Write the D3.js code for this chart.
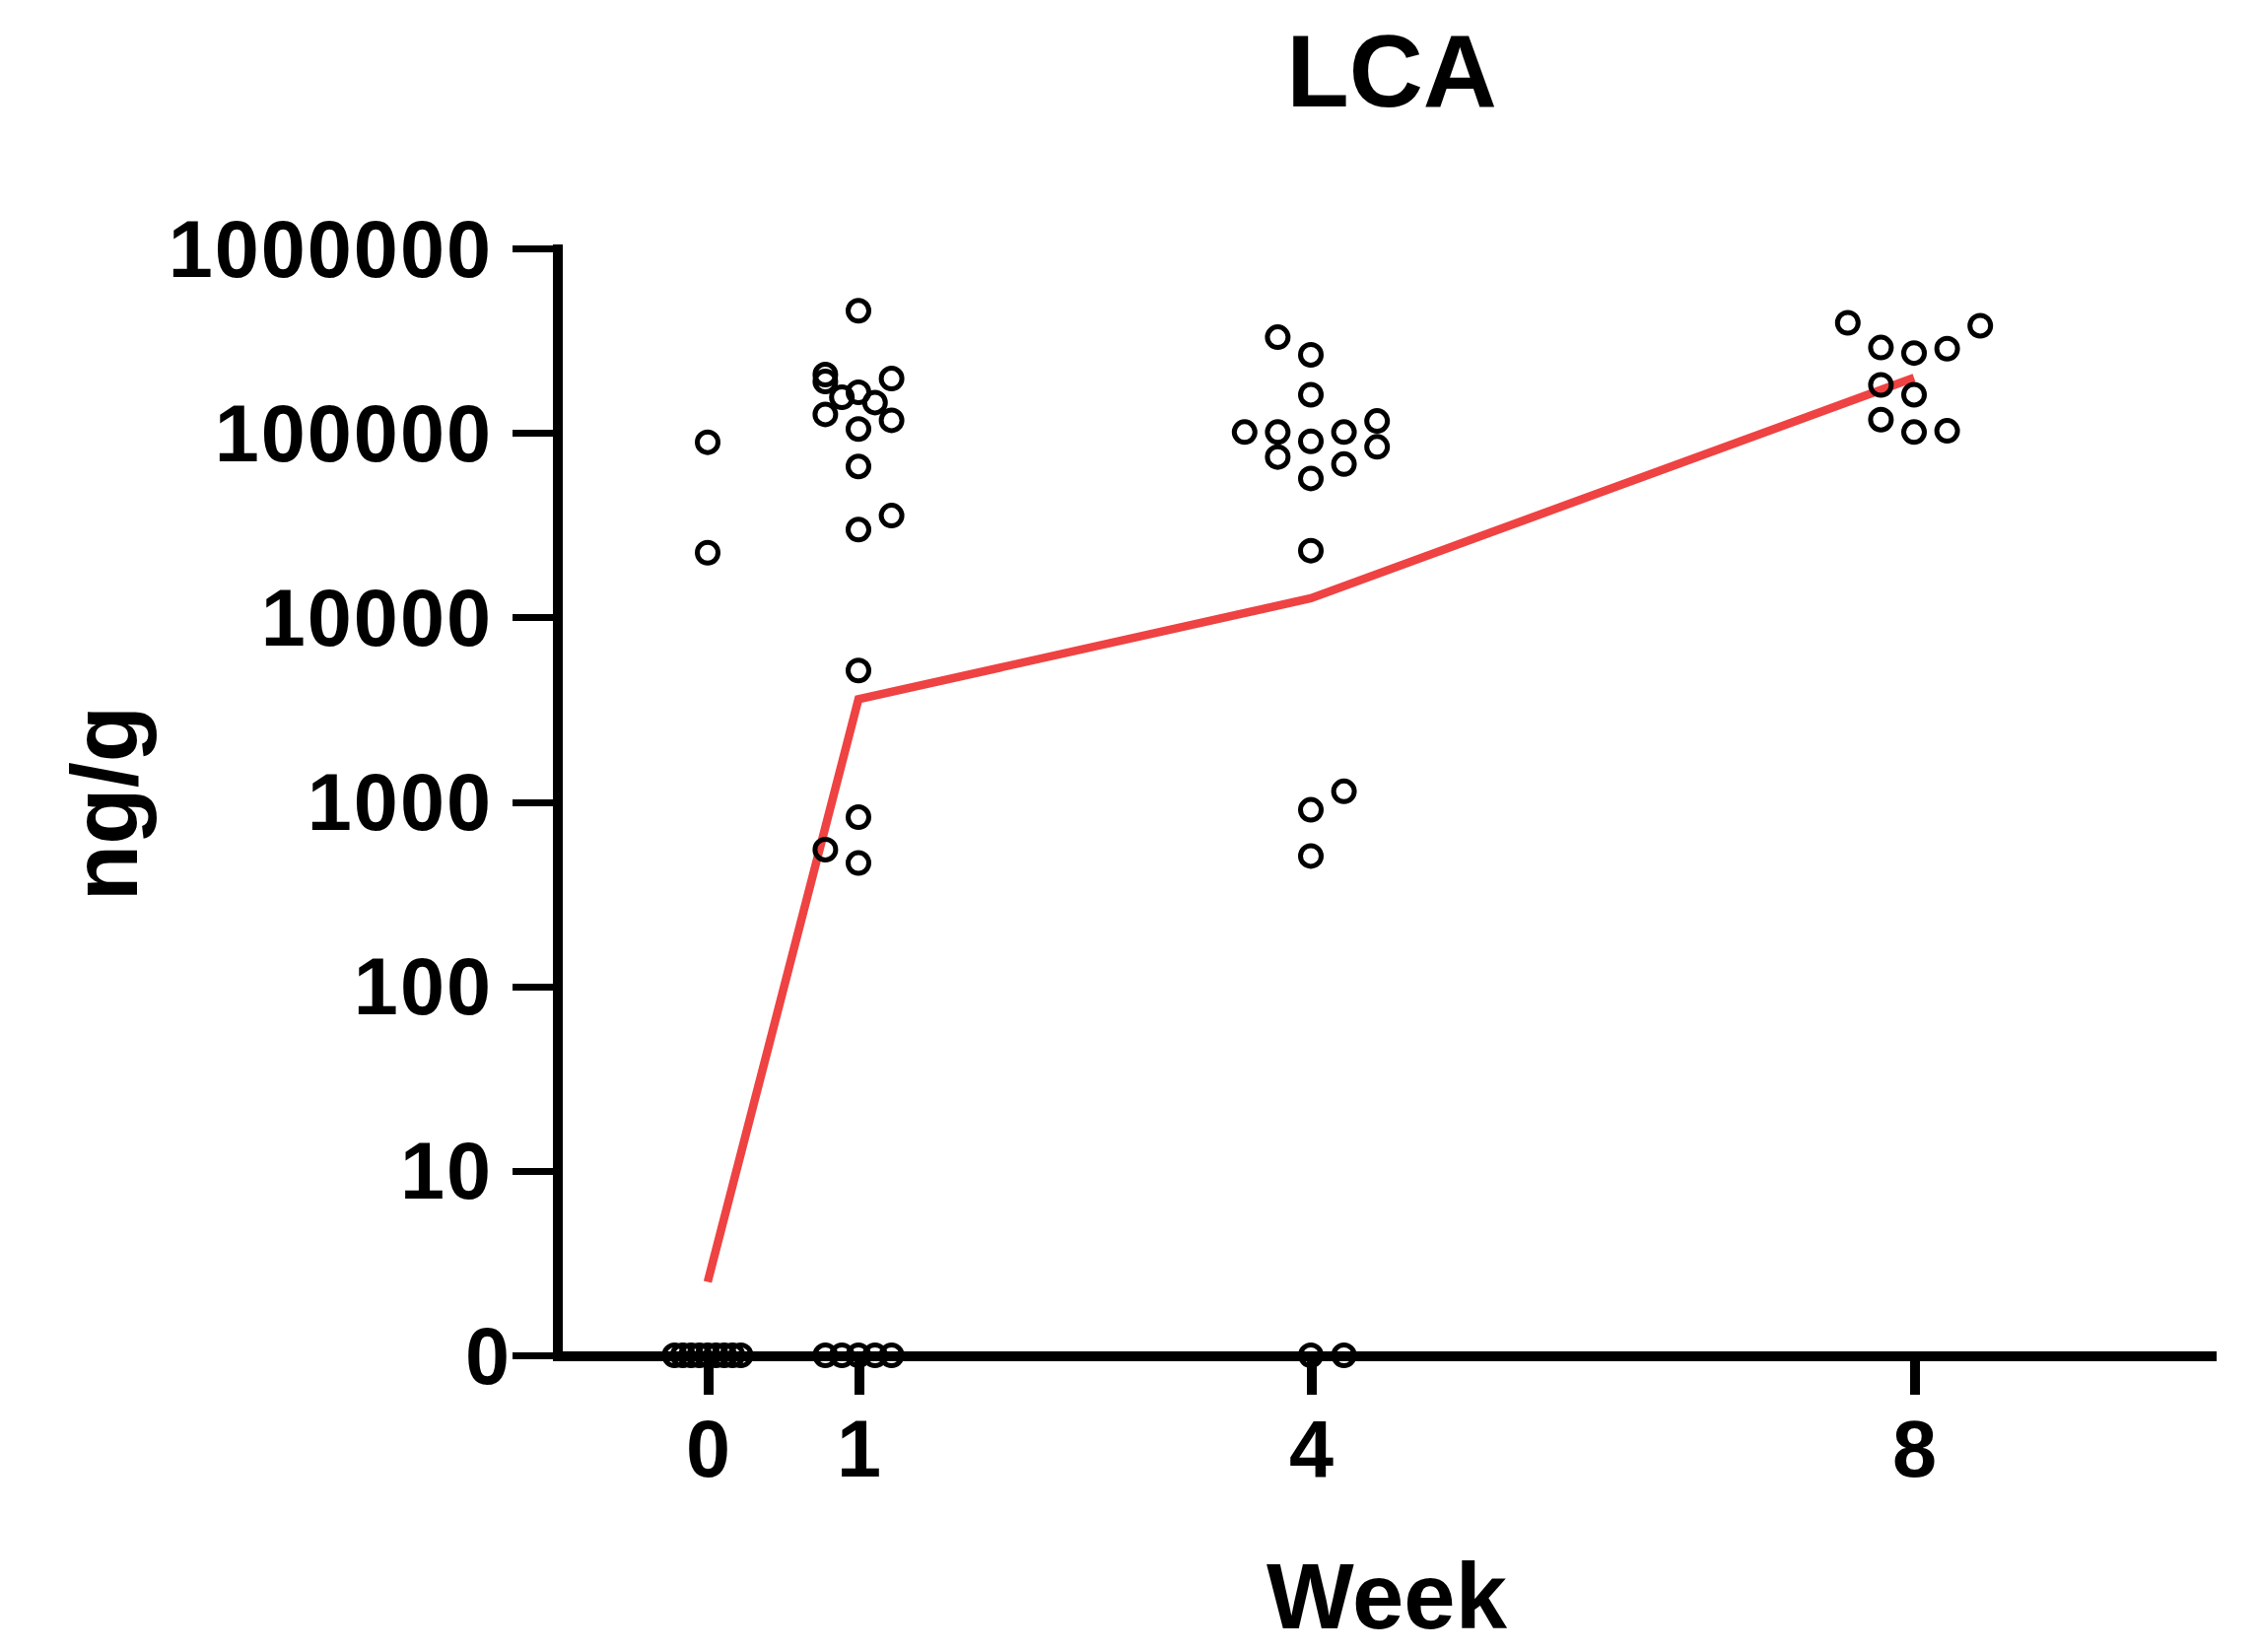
<!DOCTYPE html>
<html>
<head>
<meta charset="utf-8">
<script src="https://cdn.jsdelivr.net/npm/d3@7"></script>
<style>
  html, body { margin: 0; padding: 0; background: #ffffff; }
  svg { display: block; }
  text { font-family: "Liberation Sans", Arial, Helvetica, sans-serif; font-weight: bold; fill: #000; }
</style>
</head>
<body>
<script>
// ---------------- DATA ----------------
const chartTitle = "LCA";
const xAxisTitle = "Week";
const yAxisTitle = "ng/g";

const weekTicks = [0, 1, 4, 8];
const weekTickLabels = ["0", "1", "4", "8"];

const yTickValues = [1, 10, 100, 1000, 10000, 100000, 1000000];
const yTickLabels = ["0", "10", "100", "1000", "10000", "100000", "1000000"];

// individual samples (value, ng/g); 0 = below detection (plotted on the "0" baseline)
const week0Values = [89000, 22400, 0, 0, 0, 0, 0, 0, 0, 0, 0];
const week0Lanes  = [0, 0, -2, -1.5, -1, -0.5, 0, 0.5, 1, 1.5, 2];

const week1Values = [459000, 207000, 190000, 197000, 156000, 166000, 146000, 126000, 117000,
                     105000, 65800, 35600, 29900, 5150, 826, 551, 466, 0, 0, 0, 0, 0];
const week1Lanes  = [0, -2, -2, 2, -1, 0, 1, -2, 2,
                     0, 0, 2, 0, 0, 0, -2, 0, -2, -1, 0, 1, 2];

const week4Values = [330000, 265000, 161000, 101000, 101000, 74000, 90000, 101000, 67700,
                     116000, 84000, 56600, 23000, 1140, 905, 509, 0, 0];
const week4Lanes  = [-2, 0, 0, -4, -2, -2, 0, 2, 2,
                     4, 4, 0, 0, 2, 0, 0, 0, 2];

const week8Values = [395000, 381000, 290000, 271000, 286000, 182000, 161000, 118000, 101000, 102600];
const week8Lanes  = [-4, 4, -2, 0, 2, -2, 0, -2, 0, 2];

// summary line
const lineWeeks  = [0, 1, 4, 8];
const lineValues = [2.5, 3600, 12700, 199000];

// ---------------- LAYOUT / STYLE ----------------
const W = 2292, H = 1676;
const laneStep = 16.8;           // px between swarm lanes
const dotR = 10.5, dotStroke = 5;
const lineColor = "#EF4242";

const svg = d3.select("body").append("svg")
  .attr("width", W).attr("height", H)
  .attr("viewBox", `0 0 ${W} ${H}`);

const x = d3.scaleLinear().domain([-1, 10]).range([565, 2248]);
const y = d3.scaleLog().domain([1, 1000000]).range([1375, 252]);
const yv = v => y(v === 0 ? 1 : v);

// ---------------- AXES ----------------
const yAxis = d3.axisLeft(y)
  .tickValues(yTickValues)
  .tickFormat((d, i) => yTickLabels[i])
  .tickSize(45).tickSizeOuter(0).tickPadding(20);

const gy = svg.append("g").attr("transform", `translate(${x(-1)},0)`).call(yAxis);
gy.select(".domain").attr("stroke", "#000").attr("stroke-width", 10).attr("stroke-linecap", "square");
gy.selectAll(".tick line").attr("stroke", "#000").attr("stroke-width", 7);
gy.selectAll(".tick text")
  .attr("font-size", 81)
  .attr("letter-spacing", 2)
  .attr("dy", null)
  .attr("dominant-baseline", "central")
  .attr("x", (d, i) => i === 0 ? -46 : -65);

const xAxis = d3.axisBottom(x)
  .tickValues(weekTicks)
  .tickFormat((d, i) => weekTickLabels[i])
  .tickSize(40).tickSizeOuter(0).tickPadding(14);

const gx = svg.append("g").attr("transform", `translate(0,${y(1)})`).call(xAxis);
gx.select(".domain").attr("stroke", "#000").attr("stroke-width", 10);
gx.selectAll(".tick line").attr("stroke", "#000").attr("stroke-width", 10);
gx.selectAll(".tick text")
  .attr("font-size", 81)
  .attr("dy", "0.75em")
  .attr("y", 62);

svg.selectAll(".domain, .tick line").attr("shape-rendering", "crispEdges");

// ---------------- LINE ----------------
const lineData = lineWeeks.map((w, i) => ({ w, v: lineValues[i] }));
svg.append("path")
  .datum(lineData)
  .attr("fill", "none")
  .attr("stroke", lineColor)
  .attr("stroke-width", 8.5)
  .attr("stroke-linejoin", "miter")
  .attr("d", d3.line().x(d => x(d.w)).y(d => yv(d.v)));

// ---------------- POINTS ----------------
const groups = [
  { week: 0, values: week0Values, lanes: week0Lanes },
  { week: 1, values: week1Values, lanes: week1Lanes },
  { week: 4, values: week4Values, lanes: week4Lanes },
  { week: 8, values: week8Values, lanes: week8Lanes }
];
const pts = [];
groups.forEach(g => g.values.forEach((v, i) => pts.push({ week: g.week, v, lane: g.lanes[i] })));

svg.append("g").selectAll("circle")
  .data(pts).join("circle")
  .attr("cx", d => x(d.week) + d.lane * laneStep)
  .attr("cy", d => yv(d.v))
  .attr("r", dotR)
  .attr("fill", "none")
  .attr("stroke", "#000")
  .attr("stroke-width", dotStroke);

// ---------------- TITLES ----------------
svg.append("text")
  .attr("x", 1412).attr("y", 108)
  .attr("text-anchor", "middle")
  .attr("font-size", 104)
  .text(chartTitle);

svg.append("text")
  .attr("x", 1407).attr("y", 1652)
  .attr("text-anchor", "middle")
  .attr("font-size", 94)
  .text(xAxisTitle);

svg.append("text")
  .attr("transform", `translate(139,815) rotate(-90)`)
  .attr("text-anchor", "middle")
  .attr("font-size", 94)
  .text(yAxisTitle);
</script>
</body>
</html>
